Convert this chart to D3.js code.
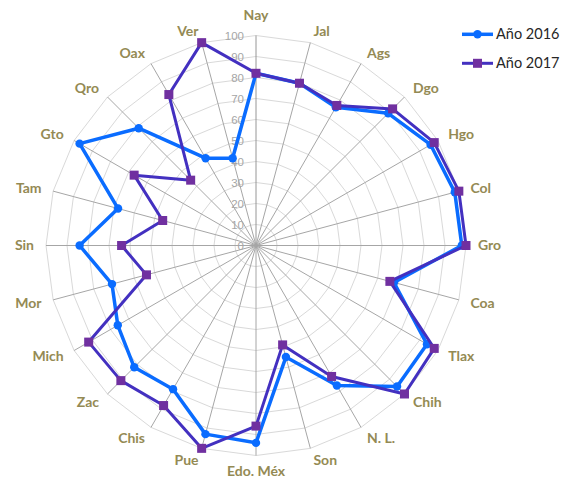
<!DOCTYPE html>
<html>
<head>
<meta charset="utf-8">
<script src="https://cdnjs.cloudflare.com/ajax/libs/d3/7.8.5/d3.min.js"></script>
<style>
  html, body { margin: 0; padding: 0; background: #fff; }
  svg { display: block; }
</style>
</head>
<body>
<svg id="chart" width="563" height="481"></svg>
<script>
const categories = ["Nay","Jal","Ags","Dgo","Hgo","Col","Gro","Coa","Tlax","Chih","N. L.","Son","Edo. Méx","Pue","Chis","Zac","Mich","Mor","Sin","Tam","Gto","Qro","Oax","Ver"];
const values2016 = [82,80,76,89,96,98,98,68,94,95,77,55,94,93,79,82,76,71,84,68,97,79,48,43];
const values2017 = [82,80,77,92,98,100,100,66,98,100,72,49,86,100,88,91,92,54,64,46,67,44,83,100];
const tickValues = [0,10,20,30,40,50,60,70,80,90,100];
const seriesNames = ["Año 2016","Año 2017"];

const svg = d3.select("#chart");
const cx = 256, cy = 245.5, R = 210;

const r = d3.scaleLinear().domain([0, 100]).range([0, R]);
const angle = d3.scaleLinear().domain([0, categories.length]).range([0, 2 * Math.PI]);

const g = svg.append("g").attr("transform", `translate(${cx},${cy})`);

// grid rings (polygons)
const ringLine = d3.lineRadial().curve(d3.curveLinearClosed)
  .angle((d, i) => angle(i)).radius(d => r(d));
tickValues.filter(t => t > 0).forEach(t => {
  g.append("path")
    .attr("d", ringLine(categories.map(() => t)))
    .attr("fill", "none")
    .attr("stroke", "#D9D9D9")
    .attr("stroke-width", 1);
});

// spokes
categories.forEach((c, i) => {
  const a = angle(i);
  g.append("line")
    .attr("x1", 0).attr("y1", 0)
    .attr("x2", r(100) * Math.sin(a)).attr("y2", -r(100) * Math.cos(a))
    .attr("stroke", i === 0 ? "#969696" : "#A6A6A6")
    .attr("stroke-width", 1);
});

// value axis labels
const yScale = d3.scaleLinear().domain([0, 100]).range([0, -R]);
const axis = g.append("g")
  .call(d3.axisLeft(yScale).tickValues(tickValues).tickSize(0).tickPadding(12));
axis.select(".domain").remove();
axis.selectAll("text")
  .attr("fill", "#A6A6A6")
  .style("font-family", "'Liberation Sans', Arial, sans-serif")
  .style("font-size", "11.5px");

// category labels
categories.forEach((c, i) => {
  const a = angle(i);
  const s = Math.sin(a), co = Math.cos(a);
  let rad = R + 12;
  if (Math.abs(s) < 0.05) rad = co > 0 ? R + 20 : R + 16;
  const x = rad * s, y = -rad * co;
  g.append("text")
    .attr("x", x).attr("y", y)
    .attr("dy", "0.35em")
    .attr("text-anchor", s > 0.05 ? "start" : (s < -0.05 ? "end" : "middle"))
    .attr("fill", "#948A54")
    .style("font-family", "Lato, 'Open Sans', sans-serif")
    .style("font-weight", "bold")
    .style("font-size", "14px")
    .text(c);
});

// series
const seriesLine = d3.lineRadial().curve(d3.curveLinearClosed)
  .angle((d, i) => angle(i)).radius(d => r(d));

const colors = { line2016: "#0A6CFF", line2017: "#4330C0", marker2017: "#7030A0" };

// 2016
g.append("path")
  .attr("d", seriesLine(values2016))
  .attr("fill", "none")
  .attr("stroke", colors.line2016)
  .attr("stroke-width", 3.5)
  .attr("stroke-linejoin", "round");
g.selectAll(".m2016").data(values2016).enter().append("circle")
  .attr("cx", (d, i) => r(d) * Math.sin(angle(i)))
  .attr("cy", (d, i) => -r(d) * Math.cos(angle(i)))
  .attr("r", 4.2)
  .attr("fill", colors.line2016);

// 2017
g.append("path")
  .attr("d", seriesLine(values2017))
  .attr("fill", "none")
  .attr("stroke", colors.line2017)
  .attr("stroke-width", 3)
  .attr("stroke-linejoin", "round");
g.selectAll(".m2017").data(values2017).enter().append("rect")
  .attr("x", (d, i) => r(d) * Math.sin(angle(i)) - 4.5)
  .attr("y", (d, i) => -r(d) * Math.cos(angle(i)) - 4.5)
  .attr("width", 9).attr("height", 9)
  .attr("fill", colors.marker2017);

// legend
const legend = svg.append("g");
const ly = [34.3, 63.3];
seriesNames.forEach((name, k) => {
  const y = ly[k];
  legend.append("line")
    .attr("x1", 462).attr("x2", 493).attr("y1", y).attr("y2", y)
    .attr("stroke", k === 0 ? colors.line2016 : colors.line2017)
    .attr("stroke-width", k === 0 ? 3.5 : 3);
  if (k === 0) {
    legend.append("circle").attr("cx", 477.5).attr("cy", y).attr("r", 4.2).attr("fill", colors.line2016);
  } else {
    legend.append("rect").attr("x", 473).attr("y", y - 4.5).attr("width", 9).attr("height", 9).attr("fill", colors.marker2017);
  }
  legend.append("text")
    .attr("x", 496).attr("y", y).attr("dy", "0.35em")
    .attr("fill", "#262626")
    .style("font-family", "Lato, 'Open Sans', sans-serif")
    .style("font-size", "14.5px")
    .text(name);
});
</script>
</body>
</html>
